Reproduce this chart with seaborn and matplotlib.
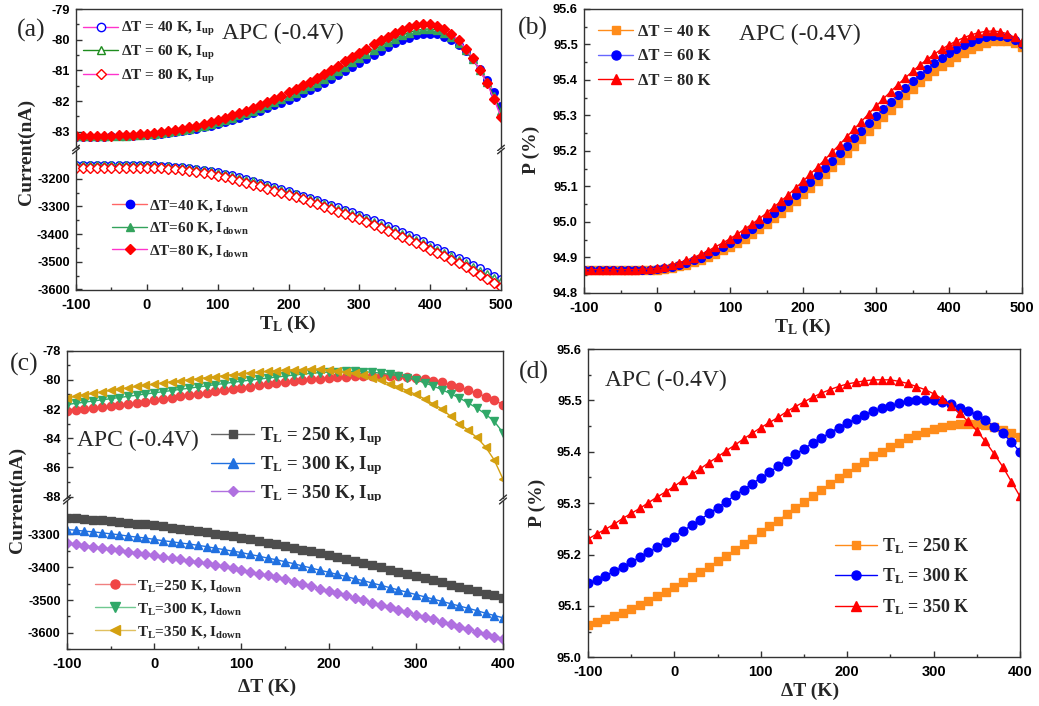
import numpy as np
import pandas as pd
import matplotlib
matplotlib.use("Agg")
import matplotlib.pyplot as plt
from matplotlib.lines import Line2D
from matplotlib.ticker import MultipleLocator, FormatStrFormatter, FixedLocator
from matplotlib.font_manager import FontProperties
import seaborn as sns

# ---------------- data ----------------
TL = list(range(-100, 501, 10))          # panel (a),(b) x values (K)
DT = list(range(-100, 401, 10))          # panel (c),(d) x values (K)

a_up_40 = [-83.16,-83.16,-83.16,-83.16,-83.16,-83.15,-83.15,-83.14,-83.13,-83.12,-83.11,-83.10,-83.08,-83.05,-83.02,-82.98,-82.94,-82.90,-82.85,-82.80,-82.75,-82.68,-82.62,-82.55,-82.47,-82.40,-82.31,-82.23,-82.14,-82.05,-81.96,-81.86,-81.75,-81.65,-81.54,-81.42,-81.29,-81.16,-81.03,-80.89,-80.76,-80.63,-80.50,-80.37,-80.24,-80.12,-80.02,-79.93,-79.85,-79.81,-79.80,-79.83,-79.90,-80.01,-80.17,-80.38,-80.64,-80.95,-81.30,-81.71,-82.16]
a_up_60 = [-83.15,-83.15,-83.15,-83.15,-83.15,-83.14,-83.14,-83.13,-83.12,-83.11,-83.09,-83.07,-83.05,-83.02,-82.98,-82.94,-82.90,-82.85,-82.80,-82.75,-82.69,-82.62,-82.55,-82.47,-82.39,-82.31,-82.22,-82.13,-82.04,-81.94,-81.84,-81.73,-81.62,-81.51,-81.40,-81.28,-81.15,-81.02,-80.88,-80.74,-80.60,-80.47,-80.34,-80.21,-80.08,-79.97,-79.86,-79.77,-79.70,-79.66,-79.65,-79.69,-79.78,-79.92,-80.11,-80.35,-80.64,-80.99,-81.39,-81.84,-82.32]
a_up_80 = [-83.14,-83.14,-83.14,-83.14,-83.13,-83.13,-83.12,-83.11,-83.10,-83.08,-83.06,-83.04,-83.01,-82.98,-82.94,-82.90,-82.85,-82.80,-82.74,-82.69,-82.63,-82.55,-82.47,-82.39,-82.31,-82.22,-82.13,-82.03,-81.93,-81.83,-81.72,-81.61,-81.49,-81.37,-81.25,-81.13,-80.99,-80.85,-80.71,-80.56,-80.42,-80.29,-80.15,-80.02,-79.90,-79.79,-79.68,-79.60,-79.53,-79.50,-79.50,-79.55,-79.65,-79.81,-80.02,-80.29,-80.61,-80.99,-81.42,-81.93,-82.52]

a_dn_40 = [-3150,-3150,-3150,-3150,-3150,-3150,-3150,-3150,-3150,-3151,-3151,-3152,-3153,-3154,-3156,-3158,-3161,-3164,-3168,-3172,-3177,-3182,-3188,-3194,-3201,-3208,-3215,-3222,-3230,-3238,-3246,-3254,-3262,-3270,-3278,-3287,-3295,-3304,-3313,-3322,-3331,-3341,-3351,-3361,-3371,-3382,-3393,-3404,-3415,-3426,-3438,-3450,-3462,-3474,-3486,-3498,-3511,-3524,-3537,-3550,-3563]
a_dn_60 = [-3149,-3149,-3149,-3149,-3149,-3149,-3149,-3149,-3150,-3150,-3151,-3152,-3153,-3155,-3157,-3159,-3162,-3166,-3170,-3174,-3179,-3184,-3190,-3196,-3203,-3210,-3217,-3225,-3233,-3241,-3249,-3257,-3265,-3274,-3282,-3291,-3300,-3309,-3318,-3327,-3336,-3346,-3356,-3366,-3377,-3388,-3399,-3410,-3421,-3433,-3445,-3457,-3469,-3481,-3494,-3506,-3519,-3532,-3545,-3558,-3571]
a_dn_80 = [-3160,-3160,-3160,-3160,-3160,-3160,-3160,-3160,-3160,-3161,-3161,-3162,-3163,-3164,-3166,-3168,-3171,-3175,-3179,-3184,-3189,-3195,-3201,-3207,-3214,-3221,-3228,-3236,-3243,-3251,-3259,-3267,-3275,-3284,-3292,-3301,-3310,-3319,-3328,-3337,-3347,-3357,-3367,-3377,-3388,-3399,-3410,-3421,-3433,-3444,-3456,-3468,-3481,-3493,-3506,-3519,-3533,-3547,-3561,-3575,-3590]

b_p_40 = [94.864,94.864,94.864,94.864,94.864,94.864,94.864,94.864,94.865,94.865,94.866,94.868,94.871,94.875,94.880,94.886,94.893,94.901,94.910,94.920,94.930,94.941,94.953,94.966,94.980,94.995,95.010,95.026,95.043,95.060,95.078,95.096,95.115,95.134,95.154,95.174,95.194,95.214,95.235,95.255,95.275,95.295,95.315,95.336,95.357,95.376,95.394,95.410,95.425,95.439,95.452,95.465,95.477,95.488,95.497,95.504,95.509,95.511,95.509,95.503,95.492]
b_p_60 = [94.864,94.864,94.864,94.864,94.864,94.864,94.864,94.864,94.865,94.866,94.867,94.870,94.874,94.879,94.885,94.892,94.900,94.909,94.919,94.929,94.940,94.952,94.965,94.979,94.993,95.008,95.024,95.041,95.058,95.076,95.095,95.114,95.133,95.153,95.173,95.194,95.215,95.236,95.257,95.278,95.299,95.319,95.339,95.359,95.378,95.397,95.415,95.432,95.448,95.463,95.476,95.488,95.499,95.508,95.515,95.520,95.523,95.523,95.520,95.514,95.502]
b_p_80 = [94.866,94.866,94.866,94.866,94.866,94.866,94.866,94.866,94.867,94.868,94.870,94.874,94.879,94.885,94.892,94.900,94.909,94.919,94.930,94.941,94.953,94.966,94.980,94.994,95.009,95.025,95.042,95.059,95.077,95.096,95.115,95.135,95.155,95.176,95.197,95.218,95.240,95.262,95.283,95.305,95.326,95.347,95.367,95.387,95.406,95.424,95.442,95.458,95.473,95.487,95.499,95.510,95.519,95.527,95.533,95.537,95.538,95.536,95.530,95.520,95.506]

c_up_250 = [-82.15,-82.10,-82.03,-81.96,-81.89,-81.81,-81.73,-81.65,-81.57,-81.49,-81.40,-81.31,-81.22,-81.13,-81.04,-80.95,-80.87,-80.79,-80.70,-80.62,-80.54,-80.46,-80.38,-80.31,-80.24,-80.17,-80.10,-80.03,-79.97,-79.92,-79.87,-79.82,-79.78,-79.74,-79.72,-79.71,-79.71,-79.72,-79.75,-79.80,-79.88,-79.95,-80.05,-80.17,-80.32,-80.50,-80.70,-80.92,-81.15,-81.41,-81.69]
c_up_300 = [-81.69,-81.61,-81.53,-81.45,-81.37,-81.29,-81.21,-81.13,-81.05,-80.97,-80.89,-80.81,-80.73,-80.65,-80.57,-80.49,-80.41,-80.33,-80.25,-80.17,-80.09,-80.02,-79.95,-79.88,-79.81,-79.74,-79.67,-79.61,-79.55,-79.50,-79.46,-79.43,-79.42,-79.42,-79.44,-79.48,-79.54,-79.62,-79.72,-79.85,-80.00,-80.20,-80.42,-80.67,-80.95,-81.24,-81.58,-81.93,-82.35,-82.85,-83.62]
c_up_350 = [-81.24,-81.13,-81.02,-80.92,-80.82,-80.72,-80.63,-80.54,-80.45,-80.37,-80.29,-80.21,-80.13,-80.06,-79.99,-79.92,-79.85,-79.78,-79.71,-79.64,-79.58,-79.52,-79.47,-79.42,-79.38,-79.34,-79.31,-79.29,-79.25,-79.27,-79.31,-79.37,-79.45,-79.55,-79.68,-79.84,-80.03,-80.25,-80.48,-80.73,-81.00,-81.30,-81.65,-82.00,-82.50,-83.00,-83.45,-83.95,-84.60,-85.50,-86.80]

c_dn_250 = [-3249,-3251,-3253,-3255,-3257,-3260,-3262,-3264,-3267,-3269,-3272,-3275,-3279,-3283,-3286,-3290,-3294,-3298,-3302,-3306,-3310,-3315,-3320,-3325,-3330,-3335,-3340,-3346,-3351,-3357,-3363,-3369,-3375,-3381,-3388,-3394,-3400,-3407,-3413,-3420,-3426,-3433,-3440,-3446,-3453,-3460,-3466,-3473,-3480,-3486,-3493]
c_dn_300 = [-3285,-3287,-3290,-3292,-3295,-3298,-3301,-3305,-3308,-3311,-3315,-3319,-3322,-3326,-3329,-3333,-3337,-3342,-3346,-3351,-3355,-3361,-3366,-3372,-3377,-3383,-3389,-3396,-3402,-3409,-3415,-3422,-3428,-3435,-3441,-3448,-3455,-3462,-3469,-3476,-3483,-3490,-3497,-3504,-3511,-3518,-3525,-3532,-3540,-3547,-3554]
c_dn_350 = [-3327,-3330,-3334,-3337,-3341,-3344,-3348,-3352,-3356,-3360,-3364,-3368,-3372,-3376,-3380,-3384,-3388,-3393,-3397,-3402,-3407,-3413,-3419,-3425,-3431,-3437,-3444,-3451,-3458,-3465,-3472,-3479,-3486,-3494,-3501,-3508,-3515,-3522,-3530,-3537,-3544,-3551,-3559,-3566,-3574,-3581,-3588,-3596,-3603,-3611,-3618]

d_p_250 = [95.062,95.068,95.074,95.080,95.087,95.094,95.102,95.110,95.119,95.128,95.137,95.146,95.156,95.166,95.176,95.187,95.198,95.209,95.220,95.231,95.243,95.255,95.266,95.278,95.290,95.302,95.314,95.325,95.337,95.348,95.359,95.370,95.381,95.391,95.400,95.409,95.418,95.426,95.433,95.439,95.445,95.449,95.452,95.454,95.455,95.454,95.452,95.448,95.443,95.437,95.429]
d_p_300 = [95.144,95.151,95.159,95.167,95.176,95.185,95.195,95.204,95.214,95.225,95.235,95.246,95.257,95.268,95.280,95.291,95.303,95.315,95.326,95.338,95.349,95.360,95.372,95.383,95.395,95.406,95.417,95.427,95.437,95.447,95.456,95.464,95.472,95.479,95.485,95.490,95.494,95.498,95.500,95.501,95.500,95.497,95.492,95.486,95.480,95.472,95.462,95.449,95.436,95.419,95.400]
d_p_350 = [95.230,95.240,95.249,95.259,95.270,95.280,95.290,95.301,95.312,95.322,95.333,95.345,95.356,95.367,95.379,95.390,95.402,95.413,95.425,95.436,95.447,95.457,95.467,95.478,95.488,95.497,95.506,95.514,95.521,95.527,95.532,95.535,95.538,95.540,95.540,95.540,95.537,95.533,95.527,95.521,95.513,95.503,95.490,95.475,95.459,95.441,95.420,95.396,95.371,95.342,95.313]

# ---------------- style ----------------
sns.set_theme(style="white")
plt.rcParams.update({
    "font.family": ["Liberation Serif", "DejaVu Serif"],
    "axes.unicode_minus": False,
    "mathtext.fontset": "custom",
    "mathtext.rm": "Liberation Serif:bold",
    "mathtext.bf": "Liberation Serif:bold",
    "mathtext.it": "Liberation Serif:bold",
    "axes.edgecolor": "#333333",
    "axes.linewidth": 1.0,
})

W, H = 1039, 706
fig = plt.figure(figsize=(W / 100, H / 100), dpi=100)
fig.patch.set_facecolor("white")


def ax_at(l, t, r, b):
    return fig.add_axes([l / W, 1 - b / H, (r - l) / W, (b - t) / H])


def fx(x):
    return x / W


def fy(y):
    return 1 - y / H


tickfont_x = FontProperties(family="Liberation Sans", weight="bold", size=10.5)
tickfont_y = FontProperties(family="Liberation Sans", weight="bold", size=9.2)


def style_ax(ax, show_x=True, top=True, bottom=True):
    ax.set_facecolor("white")
    for s in ["left", "right", "top", "bottom"]:
        ax.spines[s].set_visible(True)
        ax.spines[s].set_color("#333333")
        ax.spines[s].set_linewidth(1.0)
    if not top:
        ax.spines["top"].set_visible(False)
    if not bottom:
        ax.spines["bottom"].set_visible(False)
    ax.tick_params(which="both", direction="in", top=False, right=False,
                   left=True, bottom=show_x, colors="#333333")
    ax.tick_params(axis="x", which="both", pad=5.5)
    ax.tick_params(axis="y", which="both", pad=4.5)
    ax.tick_params(which="major", length=4.5, width=1.0)
    ax.tick_params(which="minor", length=2.5, width=1.0)
    if not show_x:
        ax.tick_params(axis="x", which="both", bottom=False, labelbottom=False)
    for lab in ax.get_xticklabels():
        lab.set_fontproperties(tickfont_x)
        lab.set_color("black")
    for lab in ax.get_yticklabels():
        lab.set_fontproperties(tickfont_y)
        lab.set_color("black")
    ax.set_xlabel("")
    ax.set_ylabel("")
    ax.grid(False)


def draw(ax, x, y, lc, marker, ms, mfc, mec, lw=1.0, mew=1.0):
    df = pd.DataFrame({"x": x, "y": y})
    sns.lineplot(data=df, x="x", y="y", ax=ax, color=lc, marker=marker,
                 markersize=ms, markerfacecolor=mfc, markeredgecolor=mec,
                 markeredgewidth=mew, linewidth=lw, legend=False,
                 estimator=None, sort=False)


def handle(lc, marker, ms, mfc, mec, lw=1.0):
    return Line2D([], [], color=lc, lw=lw, marker=marker, markersize=ms,
                  markerfacecolor=mfc, markeredgecolor=mec, markeredgewidth=1.0)


def break_marks(ax_lo, ax_hi):
    # small slanted marks on left/right spines at the axis break
    for axx, yy in ((ax_hi, 0), (ax_lo, 1)):
        for xx in (0, 1):
            axx.plot([xx - 0.008, xx + 0.008], [yy - 0.02, yy + 0.02],
                     transform=axx.transAxes, color="#333333", lw=1.0,
                     clip_on=False)


legfont = lambda s: FontProperties(family="Liberation Serif", weight="bold", size=s)

BLUE = "#0000FF"
RED = "#FF0000"
MAG = "#FF33CC"
GRN_A = "#33A35C"
GRN_L = "#1E8C1E"
ORG = "#FF8C1A"

# ================= panel (a) =================
a_hi = ax_at(76, 9, 501, 148)
a_lo = ax_at(76, 151, 501, 290)
ms_a = 5.4
draw(a_hi, TL, a_up_40, MAG, "o", ms_a, BLUE, BLUE)
draw(a_hi, TL, a_up_60, GRN_L, "^", ms_a, GRN_A, GRN_A)
draw(a_hi, TL, a_up_80, MAG, "D", ms_a * 0.9, RED, RED)
draw(a_lo, TL, a_dn_40, "#FF6666", "o", ms_a, "white", BLUE)
draw(a_lo, TL, a_dn_60, GRN_A, "^", ms_a, "white", GRN_A)
draw(a_lo, TL, a_dn_80, MAG, "D", ms_a * 0.9, "white", RED)
for ax in (a_hi, a_lo):
    ax.set_xlim(-100, 500)
    ax.xaxis.set_major_locator(MultipleLocator(100))
    ax.xaxis.set_minor_locator(MultipleLocator(50))
a_hi.set_ylim(-83.53, -79)
a_hi.yaxis.set_major_locator(MultipleLocator(1))
a_hi.yaxis.set_minor_locator(MultipleLocator(0.5))
a_lo.set_ylim(-3602, -3100)
a_lo.yaxis.set_major_locator(FixedLocator([-3600, -3500, -3400, -3300, -3200]))
a_lo.yaxis.set_minor_locator(FixedLocator([-3550, -3450, -3350, -3250, -3150]))
style_ax(a_hi, show_x=False, bottom=False)
style_ax(a_lo, show_x=True, top=False)
break_marks(a_lo, a_hi)

h_a1 = [handle(MAG, "o", 6, "white", BLUE), handle(GRN_L, "^", 6, "white", GRN_L),
        handle(MAG, "D", 5.4, "white", RED)]
l_a1 = [r"ΔT = 40 K, I$_{\mathbf{up}}$", r"ΔT = 60 K, I$_{\mathbf{up}}$",
        r"ΔT = 80 K, I$_{\mathbf{up}}$"]
a_hi.legend(h_a1, l_a1, loc="upper left", bbox_to_anchor=(fx(83), fy(20)),
            bbox_transform=fig.transFigure, frameon=False, borderpad=0,
            borderaxespad=0, handlelength=2.3, handletextpad=0.2,
            labelspacing=0.38, prop=legfont(11))
h_a2 = [handle("#FF6666", "o", 6, BLUE, BLUE), handle(GRN_A, "^", 6, GRN_A, GRN_A),
        handle(MAG, "D", 5.4, RED, RED)]
l_a2 = [r"ΔT=40 K, I$_{\mathbf{down}}$", r"ΔT=60 K, I$_{\mathbf{down}}$",
        r"ΔT=80 K, I$_{\mathbf{down}}$"]
a_lo.legend(h_a2, l_a2, loc="upper left", bbox_to_anchor=(fx(112), fy(198)),
            bbox_transform=fig.transFigure, frameon=False, borderpad=0,
            borderaxespad=0, handlelength=2.3, handletextpad=0.15,
            labelspacing=0.42, prop=legfont(11))

# ================= panel (b) =================
b = ax_at(584, 9, 1022, 293)
ms_b = 5.6
draw(b, TL, b_p_40, ORG, "s", ms_b * 0.95, ORG, ORG)
draw(b, TL, b_p_60, "#6666FF", "o", ms_b, BLUE, BLUE)
draw(b, TL, b_p_80, RED, "^", ms_b * 1.05, RED, RED)
b.set_xlim(-100, 500)
b.set_ylim(94.8, 95.6)
b.xaxis.set_major_locator(MultipleLocator(100))
b.xaxis.set_minor_locator(MultipleLocator(50))
b.yaxis.set_major_locator(MultipleLocator(0.1))
b.yaxis.set_minor_locator(MultipleLocator(0.05))
b.yaxis.set_major_formatter(FormatStrFormatter("%.1f"))
style_ax(b)
h_b = [handle(ORG, "s", 6, ORG, ORG), handle("#6666FF", "o", 6.5, BLUE, BLUE),
       handle(RED, "^", 6.5, RED, RED)]
l_b = ["ΔT = 40 K", "ΔT = 60 K", "ΔT = 80 K"]
b.legend(h_b, l_b, loc="upper left", bbox_to_anchor=(fx(598), fy(24)),
         bbox_transform=fig.transFigure, frameon=False, borderpad=0,
         borderaxespad=0, handlelength=2.1, handletextpad=0.3,
         labelspacing=0.5, prop=legfont(12))

# ================= panel (c) =================
c_hi = ax_at(67, 350.7, 503, 498)
c_lo = ax_at(67, 501, 503, 649.3)
ms_c = 6.0
C_RED = "#F04545"
C_GRN = "#30A868"
C_GLD = "#D4A010"
C_GRY = "#4D4D4D"
C_BLU = "#2070E0"
C_PUR = "#B070E0"
draw(c_hi, DT, c_up_250, C_RED, "o", ms_c, C_RED, C_RED)
draw(c_hi, DT, c_up_300, C_GRN, "v", ms_c, C_GRN, C_GRN)
draw(c_hi, DT, c_up_350, C_GLD, "<", ms_c, C_GLD, C_GLD)
draw(c_lo, DT, c_dn_250, C_GRY, "s", ms_c * 0.9, C_GRY, C_GRY)
draw(c_lo, DT, c_dn_300, C_BLU, "^", ms_c, C_BLU, C_BLU)
draw(c_lo, DT, c_dn_350, C_PUR, "D", ms_c * 0.85, C_PUR, C_PUR)
for ax in (c_hi, c_lo):
    ax.set_xlim(-100, 400)
    ax.xaxis.set_major_locator(MultipleLocator(100))
    ax.xaxis.set_minor_locator(MultipleLocator(50))
c_hi.set_ylim(-88.1, -78)
c_hi.yaxis.set_major_locator(FixedLocator([-88, -86, -84, -82, -80, -78]))
c_hi.yaxis.set_minor_locator(FixedLocator([-87, -85, -83, -81, -79]))
c_lo.set_ylim(-3650, -3198)
c_lo.yaxis.set_major_locator(FixedLocator([-3600, -3500, -3400, -3300]))
c_lo.yaxis.set_minor_locator(FixedLocator([-3650, -3550, -3450, -3350, -3250]))
style_ax(c_hi, show_x=False, bottom=False)
style_ax(c_lo, show_x=True, top=False)
break_marks(c_lo, c_hi)

h_c1 = [handle("#666666", "s", 6, C_GRY, C_GRY), handle(C_BLU, "^", 6.5, C_BLU, C_BLU),
        handle(C_PUR, "D", 5.5, C_PUR, C_PUR)]
l_c1 = [r"T$_{\mathbf{L}}$ = 250 K, I$_{\mathbf{up}}$",
        r"T$_{\mathbf{L}}$ = 300 K, I$_{\mathbf{up}}$",
        r"T$_{\mathbf{L}}$ = 350 K, I$_{\mathbf{up}}$"]
c_hi.legend(h_c1, l_c1, loc="upper left", bbox_to_anchor=(fx(211), fy(425)),
            bbox_transform=fig.transFigure, frameon=False, borderpad=0,
            borderaxespad=0, handlelength=2.3, handletextpad=0.3,
            labelspacing=0.32, prop=legfont(13.5))
h_c2 = [handle("#F08080", "o", 6.5, C_RED, C_RED), handle("#70C890", "v", 6.5, C_GRN, C_GRN),
        handle("#E0C060", "<", 6.5, C_GLD, C_GLD)]
l_c2 = [r"T$_{\mathbf{L}}$=250 K, I$_{\mathbf{down}}$",
        r"T$_{\mathbf{L}}$=300 K, I$_{\mathbf{down}}$",
        r"T$_{\mathbf{L}}$=350 K, I$_{\mathbf{down}}$"]
c_lo.legend(h_c2, l_c2, loc="upper left", bbox_to_anchor=(fx(95), fy(578)),
            bbox_transform=fig.transFigure, frameon=False, borderpad=0,
            borderaxespad=0, handlelength=2.6, handletextpad=0.15,
            labelspacing=0.45, prop=legfont(11))

# ================= panel (d) =================
d = ax_at(588, 349, 1020, 657.3)
ms_d = 6.3
draw(d, DT, d_p_250, ORG, "s", ms_d * 0.9, ORG, ORG)
draw(d, DT, d_p_300, BLUE, "o", ms_d, BLUE, BLUE)
draw(d, DT, d_p_350, RED, "^", ms_d, RED, RED)
d.set_xlim(-100, 400)
d.set_ylim(95.0, 95.6)
d.xaxis.set_major_locator(MultipleLocator(100))
d.xaxis.set_minor_locator(MultipleLocator(50))
d.yaxis.set_major_locator(MultipleLocator(0.1))
d.yaxis.set_minor_locator(MultipleLocator(0.05))
d.yaxis.set_major_formatter(FormatStrFormatter("%.1f"))
style_ax(d)
h_d = [handle(ORG, "s", 6, ORG, ORG), handle(BLUE, "o", 6.5, BLUE, BLUE),
       handle(RED, "^", 7, RED, RED)]
l_d = [r"T$_{\mathbf{L}}$ = 250 K", r"T$_{\mathbf{L}}$ = 300 K", r"T$_{\mathbf{L}}$ = 350 K"]
d.legend(h_d, l_d, loc="upper left", bbox_to_anchor=(fx(835), fy(536)),
         bbox_transform=fig.transFigure, frameon=False, borderpad=0,
         borderaxespad=0, handlelength=2.3, handletextpad=0.3,
         labelspacing=0.6, prop=legfont(13))

# ================= texts =================
regfont = dict(family="Liberation Serif", weight="normal")
boldfont = dict(family="Liberation Serif", weight="bold")
for lab, x, y in (("(a)", 31, 30), ("(b)", 533, 28), ("(c)", 24, 364), ("(d)", 534, 372)):
    fig.text(fx(x), fy(y), lab, ha="center", va="center", fontsize=18.5, **regfont)
for x, y in ((222, 33), (739, 34), (77, 440), (605, 380)):
    fig.text(fx(x), fy(y), "APC (-0.4V)", ha="left", va="center", fontsize=17, **regfont)

fig.text(fx(26), fy(152), "Current(nA)", rotation=90, ha="center", va="center", fontsize=14, **boldfont)
fig.text(fx(17), fy(500), "Current(nA)", rotation=90, ha="center", va="center", fontsize=14, **boldfont)
fig.text(fx(531), fy(150), "P (%)", rotation=90, ha="center", va="center", fontsize=14, **boldfont)
fig.text(fx(537), fy(503), "P (%)", rotation=90, ha="center", va="center", fontsize=14, **boldfont)
fig.text(fx(288), fy(324), r"T$_{\mathbf{L}}$ (K)", ha="center", va="center", fontsize=14, **boldfont)
fig.text(fx(803), fy(327), r"T$_{\mathbf{L}}$ (K)", ha="center", va="center", fontsize=14, **boldfont)
fig.text(fx(267), fy(687), "ΔT (K)", ha="center", va="center", fontsize=14, **boldfont)
fig.text(fx(810), fy(691), "ΔT (K)", ha="center", va="center", fontsize=14, **boldfont)

fig.savefig("out.png", dpi=100, facecolor="white")
